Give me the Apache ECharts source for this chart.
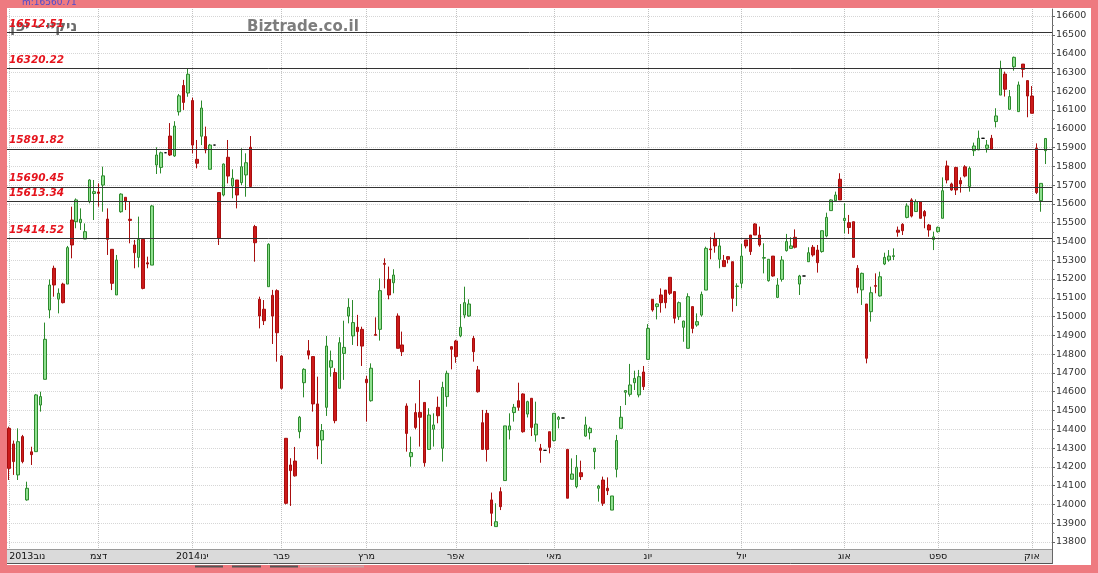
<!DOCTYPE html>
<html><head><meta charset="utf-8">
<script src="https://cdn.jsdelivr.net/npm/echarts@6/dist/echarts.min.js"></script>
<style>html,body{margin:0;padding:0;background:#EE7A80;}#c{width:1098px;height:573px;}</style>
</head><body><div id="c"></div>
<script>
// ---------- DATA ----------
const dates = [
 '2013-11-01','2013-11-05','2013-11-06','2013-11-07','2013-11-08','2013-11-11','2013-11-12','2013-11-13','2013-11-14','2013-11-15','2013-11-18','2013-11-19','2013-11-20','2013-11-21','2013-11-22','2013-11-25','2013-11-26','2013-11-27','2013-11-28','2013-11-29',
 '2013-12-02','2013-12-03','2013-12-04','2013-12-05','2013-12-06','2013-12-09','2013-12-10','2013-12-11','2013-12-12','2013-12-13','2013-12-16','2013-12-17','2013-12-18','2013-12-19','2013-12-20','2013-12-23','2013-12-24','2013-12-25','2013-12-26','2013-12-27','2013-12-30',
 '2014-01-06','2014-01-07','2014-01-08','2014-01-09','2014-01-10','2014-01-13','2014-01-14','2014-01-15','2014-01-16','2014-01-17','2014-01-20','2014-01-21','2014-01-22','2014-01-23','2014-01-24','2014-01-27','2014-01-28','2014-01-29','2014-01-30','2014-01-31',
 '2014-02-03','2014-02-04','2014-02-05','2014-02-06','2014-02-07','2014-02-10','2014-02-12','2014-02-13','2014-02-14','2014-02-17','2014-02-18','2014-02-19','2014-02-20','2014-02-21','2014-02-24','2014-02-25','2014-02-26','2014-02-27','2014-02-28',
 '2014-03-03','2014-03-04','2014-03-05','2014-03-06','2014-03-07','2014-03-10','2014-03-11','2014-03-12','2014-03-13','2014-03-14','2014-03-17','2014-03-18','2014-03-19','2014-03-20','2014-03-24','2014-03-25','2014-03-26','2014-03-27','2014-03-28','2014-03-31',
 '2014-04-01','2014-04-02','2014-04-03','2014-04-04','2014-04-07','2014-04-08','2014-04-09','2014-04-10','2014-04-11','2014-04-14','2014-04-15','2014-04-16','2014-04-17','2014-04-18','2014-04-21','2014-04-22','2014-04-23','2014-04-24','2014-04-25','2014-04-28','2014-04-29','2014-04-30',
 '2014-05-01','2014-05-02','2014-05-05','2014-05-07','2014-05-08','2014-05-09','2014-05-12','2014-05-13','2014-05-14','2014-05-15','2014-05-16','2014-05-19','2014-05-20','2014-05-21','2014-05-22','2014-05-23','2014-05-26','2014-05-27','2014-05-28','2014-05-29','2014-05-30',
 '2014-06-02','2014-06-03','2014-06-04','2014-06-05','2014-06-06','2014-06-09','2014-06-10','2014-06-11','2014-06-12','2014-06-13','2014-06-16','2014-06-17','2014-06-18','2014-06-19','2014-06-20','2014-06-23','2014-06-24','2014-06-25','2014-06-26','2014-06-27','2014-06-30',
 '2014-07-01','2014-07-02','2014-07-03','2014-07-04','2014-07-07','2014-07-08','2014-07-09','2014-07-10','2014-07-11','2014-07-14','2014-07-15','2014-07-16','2014-07-17','2014-07-18','2014-07-21','2014-07-22','2014-07-23','2014-07-24','2014-07-25','2014-07-28','2014-07-29','2014-07-30','2014-07-31',
 '2014-08-01','2014-08-04','2014-08-05','2014-08-06','2014-08-07','2014-08-08','2014-08-11','2014-08-12','2014-08-13','2014-08-14','2014-08-15','2014-08-18','2014-08-19','2014-08-20','2014-08-21','2014-08-22','2014-08-25','2014-08-26','2014-08-27','2014-08-28','2014-08-29',
 '2014-09-01','2014-09-02','2014-09-03','2014-09-04','2014-09-05','2014-09-08','2014-09-09','2014-09-10','2014-09-11','2014-09-12','2014-09-15','2014-09-16','2014-09-17','2014-09-18','2014-09-19','2014-09-22','2014-09-24','2014-09-25','2014-09-26','2014-09-29','2014-09-30',
 '2014-10-01','2014-10-02','2014-10-03','2014-10-06'
];
const open = [
 14405,14322,14157,14361,14024,14280,14281,14529,14666,15035,15257,15093,15173,15173,15514,15505,15500,15413,15612,15655,
 15663,15700,15519,15358,15115,15558,15635,15518,15381,15315,15411,15286,15274,15807,15794,15872,15961,15855,16090,16230,16190,
 16150,15837,15960,15958,15784,15913,15660,15647,15848,15695,15727,15713,15754,15901,15479,15092,15039,15159,15113,15138,
 14790,14352,14210,14231,14387,14648,14818,14787,14535,14343,14517,14730,14702,14618,14804,15003,14897,14943,14932,
 14666,14552,14905,14932,15283,15198,15180,15003,14849,14524,14254,14489,14490,14543,14293,14400,14517,14299,14574,14840,
 14870,14897,15008,15003,14884,14716,14435,14485,14024,13882,14068,14127,14396,14489,14552,14588,14481,14565,14370,14300,14288,14387,
 14340,14453,14460,14293,14134,14095,14169,14364,14382,14281,14086,14130,14086,13970,14187,14405,14597,14586,14648,14583,14705,
 14772,15092,15053,15115,15141,15209,15133,14999,14943,14831,15053,14955,15008,15141,15360,15416,15305,15298,15319,15292,15160,
 15177,15408,15434,15493,15434,15311,15191,15322,15102,15198,15351,15363,15422,15173,15216,15292,15369,15354,15346,15429,15564,15617,15731,
 15511,15500,15505,15257,15142,15067,15026,15165,15110,15280,15301,15320,15460,15491,15528,15621,15559,15612,15559,15487,15410,
 15452,15523,15802,15706,15794,15724,15797,15692,15883,15887,15949,15896,15949,16038,16179,16291,16103,16330,16091,16344,16256,
 16174,15896,15617,15883
];
const high = [
 14414,14340,14405,14370,14121,14307,14588,14600,14968,15198,15271,15150,15180,15376,15585,15629,15576,15496,15731,15727,
 15709,15798,15576,15358,15328,15656,15635,15612,15408,15532,15411,15319,15594,15901,15878,15872,16030,16040,16185,16260,16320,
 16165,15940,16150,16011,15919,15913,15660,15815,15940,15784,15727,15896,15869,15961,15488,15106,15088,15390,15142,15145,
 14795,14352,14246,14306,14471,14725,14875,14787,14680,14428,14897,14819,14725,14890,14978,15097,15088,15009,14946,
 14684,14751,14996,15203,15310,15266,15252,15017,14920,14538,14361,14538,14662,14543,14512,14485,14574,14653,14712,14840,
 14876,15067,15159,15092,14897,14737,14503,14503,14063,14006,14091,14418,14485,14535,14648,14591,14552,14565,14547,14322,14288,14387,
 14485,14471,14460,14293,14245,14263,14233,14467,14414,14300,14104,14148,14144,14045,14370,14524,14606,14748,14712,14716,14737,
 14960,15092,15070,15150,15141,15209,15133,15080,14978,15124,15053,15017,15133,15372,15422,15447,15416,15328,15322,15292,15177,
 15386,15408,15434,15497,15479,15390,15305,15322,15204,15322,15440,15422,15464,15222,15216,15369,15381,15381,15457,15553,15624,15665,15763,
 15603,15541,15505,15274,15234,15067,15159,15230,15239,15340,15354,15363,15479,15497,15603,15630,15624,15612,15567,15493,15452,
 15479,15741,15830,15713,15797,15741,15806,15799,15926,15990,15949,15940,15967,16109,16362,16304,16206,16384,16251,16344,16256,
 16227,15922,15709,15949
];
const low = [
 14130,14157,14130,14219,14020,14210,14281,14494,14666,14991,15106,15017,15070,15173,15310,15470,15461,15413,15603,15514,
 15585,15558,15328,15141,15115,15553,15567,15390,15257,15262,15145,15257,15274,15759,15762,15872,15855,15850,16070,16100,16170,
 15869,15789,15913,15869,15784,15913,15381,15640,15709,15630,15576,15700,15638,15690,15292,14937,14955,15159,14854,14760,
 14612,14000,13992,14148,14352,14570,14772,14494,14240,14215,14471,14680,14432,14618,14663,14964,14849,14843,14737,
 14441,14547,14900,14872,15150,15092,15124,14831,14790,14281,14201,14400,14308,14201,14290,14308,14432,14228,14520,14719,
 14754,14890,14991,14999,14760,14595,14293,14228,13885,13882,13970,14127,14346,14441,14499,14382,14463,14364,14334,14222,14288,14272,
 14335,14405,14460,14033,14134,14086,14130,14360,14346,14187,14015,13992,14050,13970,14144,14405,14529,14574,14609,14570,14609,
 14772,15026,14985,15021,15044,15115,14964,14982,14866,14831,14911,14946,14999,15141,15305,15340,15257,15266,15283,15026,15056,
 15150,15363,15328,15434,15372,15230,15186,15212,15102,15186,15346,15363,15363,15115,15216,15292,15319,15234,15340,15422,15564,15612,15621,
 15443,15440,15315,15124,15062,14751,14973,15124,15106,15274,15292,15301,15425,15434,15523,15528,15559,15523,15470,15425,15354,
 15447,15523,15709,15670,15647,15660,15741,15665,15855,15887,15949,15873,15887,16007,16179,16171,16103,16309,16091,16273,16061,
 16082,15652,15558,15812
];
const close = [
 14192,14228,14334,14228,14086,14265,14583,14574,14879,15168,15168,15124,15074,15367,15381,15621,15518,15452,15727,15665,
 15656,15749,15411,15177,15301,15652,15612,15512,15340,15411,15150,15280,15589,15860,15872,15872,15860,16014,16175,16140,16290,
 15913,15816,16110,15887,15913,15913,15417,15812,15748,15736,15647,15798,15819,15692,15393,15003,14978,15385,15003,14914,
 14618,14006,14180,14152,14464,14719,14795,14535,14311,14393,14843,14765,14446,14861,14836,15049,14968,14920,14843,
 14648,14725,14900,15138,15278,15115,15221,14831,14813,14378,14276,14410,14464,14222,14476,14423,14472,14623,14698,14826,
 14787,14943,15074,15067,14813,14600,14293,14293,13953,13908,13988,14418,14418,14517,14517,14387,14547,14410,14428,14288,14288,14304,
 14485,14464,14460,14033,14162,14198,14148,14423,14405,14299,14098,14006,14073,14045,14340,14464,14606,14636,14671,14680,14627,
 14937,15035,15067,15074,15074,15124,14991,15074,14976,15106,14937,14973,15118,15363,15356,15376,15376,15266,15305,15097,15163,
 15322,15376,15346,15434,15381,15314,15305,15216,15168,15301,15399,15376,15369,15216,15216,15340,15328,15287,15457,15528,15621,15647,15621,
 15523,15474,15315,15156,15230,14778,15127,15161,15212,15315,15322,15324,15449,15457,15589,15535,15612,15523,15535,15461,15424,
 15475,15670,15727,15674,15674,15706,15748,15789,15908,15949,15949,15913,15890,16068,16321,16210,16171,16380,16233,16316,16174,
 16082,15660,15709,15948
];
// market holidays shown as flat dashes
const holidays = ['2013-12-23','2014-01-13','2014-04-29','2014-05-05','2014-07-21','2014-09-15'];
const monthLabels = ['2013נוב','דצמ','2014ינו','פבר','מרץ','אפר','מאי','יונ','יול','אוג','ספט','אוק'];
const levels = [16512.51, 16320.22, 15891.82, 15690.45, 15613.34, 15414.52];
const tagValues = [16071, 15948];
const yTickMin = 13800, yTickMax = 16600, yTickStep = 100;
const titleText = 'ניקיי - יפן';
const siteText = 'Biztrade.co.il';
const topText = 'm:16560.71';

// ---------- BUILD ----------
const holidaySet = new Set(holidays);
const categories = dates.concat(['']);
const candleData = dates.map((d, i) => {
  const v = [open[i], close[i], low[i], high[i]];
  if (holidaySet.has(d)) {
    return {value: v, itemStyle: {color:'#000', color0:'#000', borderColor:'#000', borderColor0:'#000', borderColorDoji:'#000'}};
  }
  return v;
});
const monthStart = {};
let prevM = '', mCount = 0;
dates.forEach((d, i) => { const m = d.slice(0, 7); if (m !== prevM) { monthStart[i] = monthLabels[mCount++]; prevM = m; } });
const isMonthStart = (i) => Object.prototype.hasOwnProperty.call(monthStart, i);

// layout: tick grid spans y 16..542 for 13800..16600; plot area spans y 9..549
const G = {left: 7, width: 1045, tickTop: 16, tickBottom: 542, plotTop: 9, plotBottom: 549};
const pxPer = (G.tickBottom - G.tickTop) / (yTickMax - yTickMin);
const plotMin = yTickMin - (G.plotBottom - G.tickBottom) / pxPer;
const plotMax = yTickMax + (G.tickTop - G.plotTop) / pxPer;

const FONT = 'DejaVu Sans';
const levelItems = levels.map(v => ({
  yAxis: v,
  lineStyle: {color: '#333', width: 1, type: 'solid'},
  label: {show: true, position: 'insideStartTop', distance: [2, 3], formatter: v.toFixed(2),
    color: '#e5131c', fontStyle: 'italic', fontWeight: 'bold', fontSize: 10.5, fontFamily: FONT}
}));
const tagStyles = [
  {backgroundColor: '#b4f0b4', color: '#000'},
  {backgroundColor: '#0a0ad8', color: '#fff'}
];
const tagItems = tagValues.map((v, k) => ({
  yAxis: v,
  lineStyle: {opacity: 0, width: 0},
  label: Object.assign({show: true, position: 'end', distance: 0, formatter: String(v), verticalAlign: 'top',
    padding: [1, 4, 0, 4], fontSize: 10, fontFamily: FONT}, tagStyles[k])
}));

const chart = echarts.init(document.getElementById('c'), null, {renderer: 'canvas'});
chart.setOption({
  animation: false,
  backgroundColor: '#EE7A80',
  grid: [
    {left: G.left, width: G.width, top: G.plotTop, height: G.plotBottom - G.plotTop},
    {left: G.left, width: G.width, top: G.tickTop, height: G.tickBottom - G.tickTop}
  ],
  xAxis: [
    {type: 'category', gridIndex: 0, data: categories, boundaryGap: true,
     axisLine: {show: false}, axisTick: {show: false, alignWithLabel: true},
     axisLabel: {interval: (i) => isMonthStart(i), formatter: (val, i) => monthStart[i] || '',
       margin: 3, fontSize: 9.5, color: '#111', fontFamily: FONT, alignMinLabel: 'left'},
     splitLine: {show: true, interval: (i) => isMonthStart(i), alignWithLabel: true,
       lineStyle: {type: 'dotted', color: '#c2c2c2', width: 1}}},
    {type: 'category', gridIndex: 1, data: categories, boundaryGap: true, show: false}
  ],
  yAxis: [
    {type: 'value', gridIndex: 0, min: plotMin, max: plotMax, position: 'right',
     axisLine: {show: true, lineStyle: {color: '#666', width: 1}}, axisTick: {show: false},
     axisLabel: {show: false}, splitLine: {show: false}},
    {type: 'value', gridIndex: 1, min: yTickMin, max: yTickMax, interval: yTickStep, position: 'right',
     axisLine: {show: false},
     axisTick: {show: true, length: 3, lineStyle: {color: '#666'}},
     minorTick: {show: true, splitNumber: 2, length: 2, lineStyle: {color: '#888'}},
     axisLabel: {fontSize: 9.5, color: '#333', margin: 4, fontFamily: FONT, formatter: (v) => String(v)},
     splitLine: {show: true, lineStyle: {type: 'dotted', color: '#d6d6d6', width: 1}}}
  ],
  series: [{
    type: 'candlestick', xAxisIndex: 0, yAxisIndex: 0, data: candleData, barWidth: 3,
    itemStyle: {color: '#8fe08f', color0: '#cc1a1a', borderColor: '#2c8a2c', borderColor0: '#a80e0e', borderWidth: 1},
    markLine: {silent: true, symbol: 'none', animation: false, data: levelItems.concat(tagItems)}
  }],
  graphic: [
    {type: 'rect', z: -3, shape: {x: 7, y: 8, width: 1084, height: 557}, style: {fill: '#fff'}},
    {type: 'rect', z: -2, shape: {x: 7, y: 549, width: 1045, height: 14}, style: {fill: '#dadada'}},
    {type: 'line', z: -1, shape: {x1: 7, y1: 549.5, x2: 1052, y2: 549.5}, style: {stroke: '#999', lineWidth: 1}},
    {type: 'line', z: -1, shape: {x1: 7, y1: 563.5, x2: 1052, y2: 563.5}, style: {stroke: '#555', lineWidth: 1}},
    {type: 'line', z: -1, shape: {x1: 1052.5, y1: 549, x2: 1052.5, y2: 564}, style: {stroke: '#666', lineWidth: 1}},
    {type: 'line', z: 5, shape: {x1: 195, y1: 566.5, x2: 223, y2: 566.5}, style: {stroke: '#555', lineWidth: 2}},
    {type: 'line', z: 5, shape: {x1: 232, y1: 566.5, x2: 261, y2: 566.5}, style: {stroke: '#555', lineWidth: 2}},
    {type: 'line', z: 5, shape: {x1: 270, y1: 566.5, x2: 298, y2: 566.5}, style: {stroke: '#555', lineWidth: 2}},
    {type: 'line', z: 5, shape: {x1: 300, y1: 566.5, x2: 364, y2: 566.5}, style: {stroke: '#c9a3a6', lineWidth: 2}},
    {type: 'text', z: 1, left: 10, top: 20, style: {text: titleText, fill: '#6a6a6a', font: 'bold 15px "DejaVu Sans"'}},
    {type: 'text', z: 1, left: 247, top: 20, style: {text: siteText, fill: '#7d7d7d', font: 'bold 15px "DejaVu Sans"'}},
    {type: 'text', z: 6, left: 22, top: -2, style: {text: topText, fill: '#4b4bd0', font: '9px "DejaVu Sans"'}}
  ]
});
</script></body></html>
